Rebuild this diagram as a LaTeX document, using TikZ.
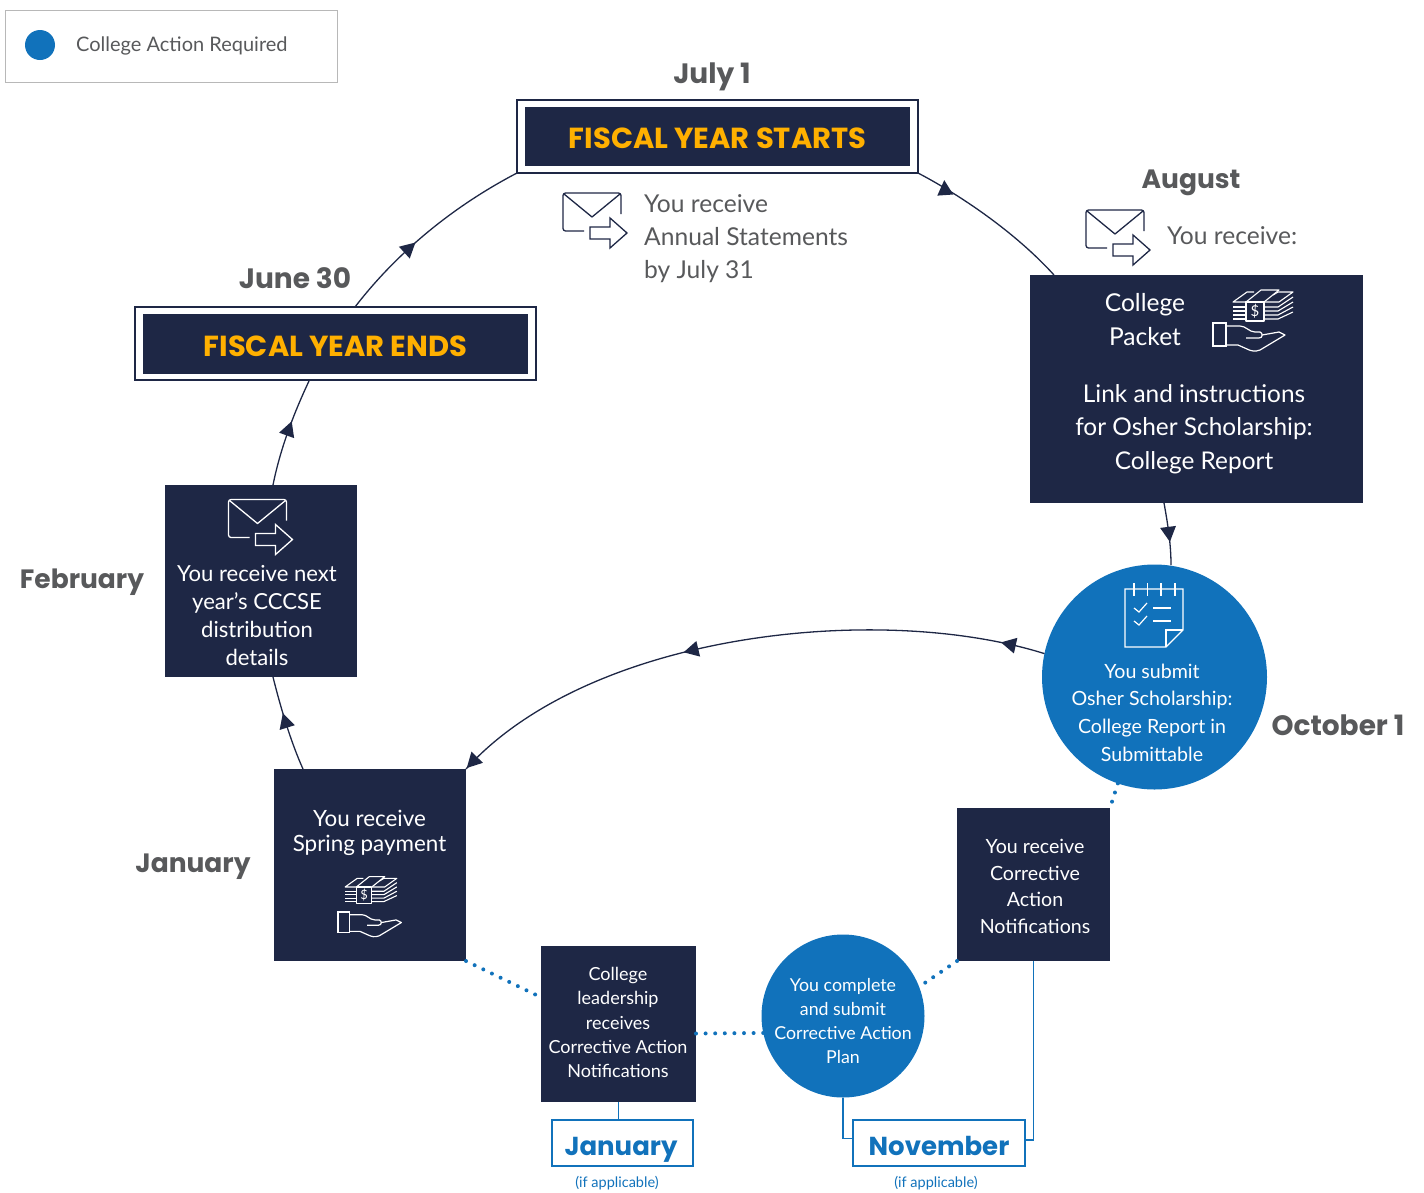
\documentclass[tikz,border=0pt]{standalone}
\usepackage{fontspec}
\setmainfont{Lato}
\newfontfamily\headfont{Poppins}
\usetikzlibrary{decorations.markings}
\definecolor{navy}{HTML}{1E2745}
\definecolor{collegeblue}{HTML}{1172BB}
\definecolor{gold}{HTML}{FFB000}
\definecolor{textgray}{HTML}{58595B}
\newcommand{\fs}[1]{\fontsize{#1}{#1}\selectfont}
\newcommand{\fsl}[2]{\fontsize{#1}{#2}\selectfont}

\tikzset{
  pics/envelope/.style={code={
    \draw[#1,line width=1.3pt,rounded corners=2.5pt,line join=round] (21,38) -- (0,38) -- (0,0) -- (58,0) -- (58,21);
    \draw[#1,line width=1.3pt,line join=round] (1,1) -- (29,24) -- (57,1);
    \draw[#1,line width=1.3pt,line join=miter] (27,34) -- (47,34) -- (47,25) -- (64,40) -- (47,55) -- (47,46) -- (27,46) -- cycle;
  }},
  pics/handicon/.style={code={
    \draw[white,line width=1.2pt] (0,0) rectangle (13,23);
    \draw[white,line width=1.2pt,line join=round] (13,3) -- (27,3) .. controls (33,3) and (36,9) .. (42,9) -- (47,9) .. controls (50,10) and (50,15) .. (46,15) -- (33,15);
    \draw[white,line width=1.2pt,line join=round] (49,12) -- (66,9) -- (72,12) -- (47,27) .. controls (42,29) and (38,28) .. (34,26) -- (25,22) -- (13,22);
  }},
  pics/moneyicon/.style={code={
    \draw[white,line width=1.1pt,line join=round] (33,-21) rectangle (51,-2);
    \draw[white,line width=1.1pt,line join=round] (33,-21) -- (48,-33) -- (66,-33) -- (51,-21);
    \draw[white,line width=1.1pt,line join=round] (60,-28) -- (65,-31) -- (80,-31) -- (66,-21) -- (51,-21);
    \draw[white,line width=1.1pt,line join=round] (33,-21) -- (20,-21) -- (34,-31) -- (41,-31);
    \foreach \ly/\ry in {-16/-26,-12/-21,-8/-16,-4/-11} {
      \draw[white,line width=1.1pt] (20,\ly) -- (33,\ly);
      \draw[white,line width=1.1pt] (51,\ly) -- (65,\ly) -- (80,\ry);
    }
    \node[white,inner sep=0pt,font=\fs{15},transform shape] (dollar) at (42,-11.5) {\$};
  }},
  pics/notepad/.style={code={
    \draw[white,line width=1.2pt,line join=miter] (0,0) -- (58,0) -- (58,41) -- (41,58) -- (0,58) -- cycle;
    \draw[white,line width=1.2pt,line join=miter] (58,41) -- (41,41) -- (41,58);
    \foreach \tx in {9,22.5,36,50} \draw[white,line width=1.2pt] (\tx,-6) -- (\tx,7);
    \foreach \cy in {19,32} {
      \draw[white,line width=1.2pt] (9,\cy) -- (14,\cy+4) -- (22,\cy-5);
      \draw[white,line width=1.2pt] (28,\cy) -- (46,\cy);
    }
  }}
}

\begin{document}
\begin{tikzpicture}[x=1pt,y=-1pt,
  navybox/.style={fill=navy,text=white,align=center,inner sep=0pt,outer sep=0pt},
  frame/.style={draw=navy,line width=1.3pt,fill=white,inner sep=0pt,outer sep=0pt},
  fiscal/.style={fill=navy,text=gold,inner sep=0pt,outer sep=0pt,text height=24.5pt,text depth=0pt,font=\headfont\bfseries\fs{29}},
  month/.style={text=textgray,inner sep=0pt,anchor=base,font=\headfont\bfseries\fs{26.5}},
  wide month/.style={month,font=\headfont\bfseries\fs{28}},
  bluebox/.style={draw=collegeblue,line width=1.2pt,text=collegeblue,inner sep=0pt,outer sep=0pt,text height=24pt,text depth=0pt,font=\headfont\bfseries\fs{26}},
  bluedisc/.style={circle,fill=collegeblue,inner sep=0pt,outer sep=0pt},
  flow/.style={draw=navy,line width=1.3pt},
  dots/.style={draw=collegeblue,line width=4pt,line cap=round,dash pattern=on 0pt off 9.6pt},
  thin blue/.style={draw=collegeblue,line width=1.2pt},
  midhead/.style 2 args={postaction={decorate,decoration={markings,mark=at position #1 with {\fill[navy,rotate=#2] (8,0) -- (-7,8) -- (-7,-8) -- cycle;}}}}
]
\useasboundingbox (0,0) rectangle (1424,1192);

% legend
\node[draw=black!28,line width=1pt,minimum width=332pt,minimum height=72pt,inner sep=0pt] (legend) at (171,46) {};
\node[bluedisc,minimum size=30pt] (legenddot) at (40,45) {};
\node[right,inner sep=0pt,text=textgray,font=\fs{20}] (legendtext) at (76,46) {College Action Required};

% fiscal year boxes
\node[frame,minimum width=401pt,minimum height=73pt] (startframe) at (717.5,136.5) {};
\node[fiscal,minimum width=385pt,minimum height=59pt] (startbox) at (717.5,136.5) {FISCAL YEAR STARTS};
\node[frame,minimum width=401pt,minimum height=73pt] (endframe) at (335.5,343.5) {};
\node[fiscal,minimum width=385pt,minimum height=60pt] (endbox) at (335.5,344) {FISCAL YEAR ENDS};

% months
\node[wide month] (julylabel) at (712,83) {July 1};
\node[month] (auglabel) at (1191,188) {August};
\node[wide month] (junelabel) at (295,288) {June 30};
\node[month] (feblabel) at (82,588) {February};
\node[wide month] (octlabel) at (1338,735) {October 1};
\node[month] (janlabel) at (193,872) {January};

% july and august text
\pic at (563,193) {envelope=navy};
\node[right,inner sep=0pt,text=textgray,align=left,font=\fsl{24.6}{33}] (julytext) at (644,239) {You receive\\Annual Statements\\by July 31};
\pic at (1086,210) {envelope=navy};
\node[right,inner sep=0pt,text=textgray,font=\fs{24.6}] (augtext) at (1167,236) {You receive:};

% dark boxes
\node[navybox,minimum width=333pt,minimum height=228pt] (packet) at (1196.5,389) {};
\node[inner sep=0pt,text=white,align=center,font=\fsl{24.6}{34}] (packettop) at (1145,320) {College\\Packet};
\node[inner sep=0pt,text=white,align=center,font=\fsl{24.4}{33.5}] (packetlink) at (1194,429) {Link and instructions\\for Osher Scholarship:\\College Report};
\pic at (1213,323) {handicon};
\pic at (1213,323) {moneyicon};

\node[navybox,minimum width=192pt,minimum height=192pt] (febbox) at (261,581) {};
\pic at (228.5,499.5) {envelope=white};
\node[inner sep=0pt,text=white,align=center,font=\fsl{22.1}{27.7}] (febtext) at (257,615.5) {You receive next\\year’s CCCSE\\distribution\\details};

\node[navybox,minimum width=192pt,minimum height=192pt] (janbox) at (370,865) {};
\node[inner sep=0pt,text=white,align=center,font=\fsl{22.4}{25.5}] (jantext) at (369.5,833) {You receive\\Spring payment};
\pic[scale=0.88] at (338,912) {handicon};
\pic[scale=0.86] at (328,905) {moneyicon};

\node[navybox,minimum width=153pt,minimum height=153pt] (notifbox) at (1033.5,884.5) {};
\node[inner sep=0pt,text=white,align=center,font=\fsl{19.6}{26.7}] (notiftext) at (1035,886.3) {You receive\\Corrective\\Action\\Notifications};
\node[navybox,minimum width=155pt,minimum height=156pt] (collegebox) at (618.5,1024) {};
\node[inner sep=0pt,text=white,align=center,font=\fsl{18}{24.2}] (collegetext) at (618,1022.5) {College\\leadership\\receives\\Corrective Action\\Notifications};

% blue circles
\node[bluedisc,minimum size=225pt] (submit) at (1154.5,677) {};
\pic at (1125,589) {notepad};
\node[inner sep=0pt,text=white,align=center,font=\fsl{19.6}{27.7}] (submittext) at (1152,712.5) {You submit\\Osher Scholarship:\\College Report in\\Submittable};
\node[bluedisc,minimum size=163pt] (plan) at (843,1016) {};
\node[inner sep=0pt,text=white,align=center,font=\fsl{17.8}{24}] (plantext) at (843,1021) {You complete\\and submit\\Corrective Action\\Plan};

% blue month boxes
\node[bluebox,minimum width=141pt,minimum height=46pt] (janapp) at (622.5,1143) {\hspace*{-3pt}January};
\node[bluebox,minimum width=172pt,minimum height=46pt] (novapp) at (939,1143) {November};
\node[inner sep=0pt,text=collegeblue,font=\fs{14.5}] (janif) at (617,1183) {(if applicable)};
\node[inner sep=0pt,text=collegeblue,font=\fs{14.5}] (novif) at (936,1183) {(if applicable)};

% navy connectors
\draw[flow,midhead={0.18}{125}] (startframe.south east) .. controls (960,195) and (1015,232) .. (1054,275);
\draw[flow,midhead={0.38}{0}] (355,307) .. controls (395,255) and (450,208) .. (startframe.south west);
\draw[flow,midhead={0.53}{0}] (273,485) .. controls (280,450) and (293,415) .. (309,381);
\draw[flow,midhead={0.53}{0}] (303,769) .. controls (290,740) and (280,705) .. (273,677);
\draw[flow,midhead={0.5}{0}] (1164,503) .. controls (1168,525) and (1171,545) .. (1171,565);
\draw[flow,midhead={0.06}{0},midhead={0.58}{0},midhead={0.985}{0}] (submit.168) .. controls (880,602) and (590,632) .. (janbox.north east);

% dotted connectors
\draw[dots] (submit.251) -- (notifbox.north east);
\draw[dots] (notifbox.south west) -- (plan.21);
\draw[dots] (collegebox.-7) -- (plan.192);
\draw[dots] (janbox.south east) -- (collegebox.161.5);

% month links
\draw[thin blue] (collegebox.south) -- (collegebox.south |- janapp.north);
\draw[thin blue] (plan.south) |- (novapp.177.3);
\draw[thin blue] (notifbox.south) |- (novapp.2.7);
\end{tikzpicture}
\end{document}
